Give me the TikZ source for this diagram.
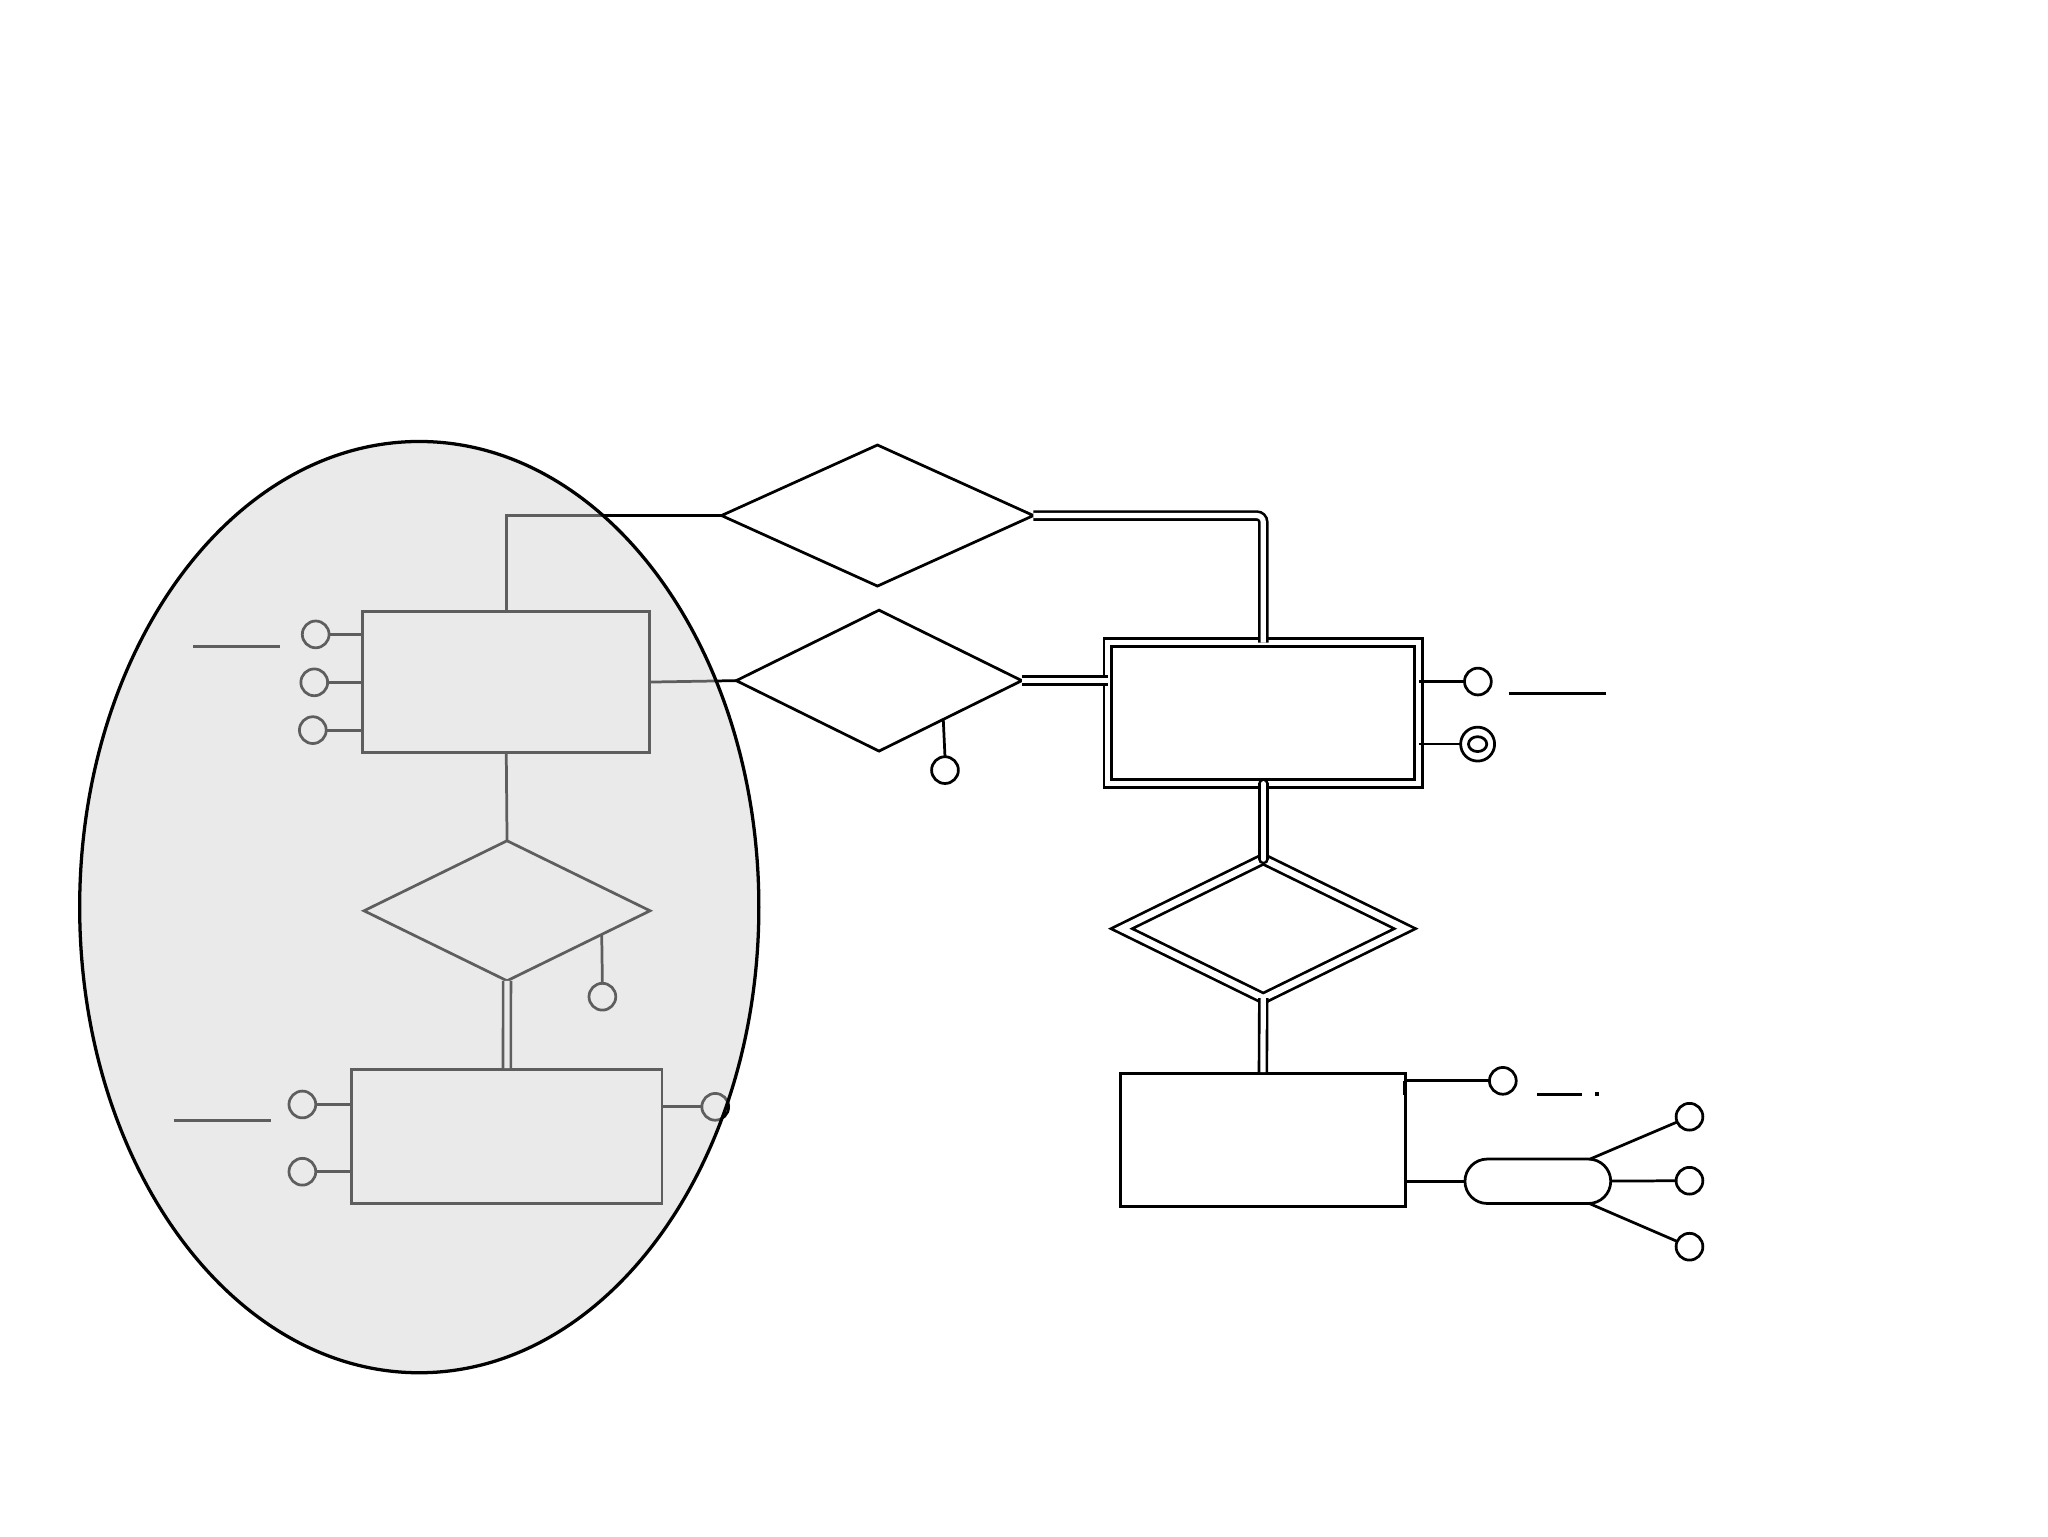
\documentclass[tikz,border=0pt]{standalone}
\usetikzlibrary{shapes.geometric,shapes.misc,calc}
\definecolor{veil}{RGB}{210,210,210}
\begin{document}
\begin{tikzpicture}[x=1pt,y=-1pt,line width=2.1pt,line join=miter,
  entity/.style={draw,fill=white,rectangle,inner sep=0pt,outer sep=0pt},
  weakentity/.style={entity,double=white,double distance=4pt},
  rel/.style={draw,fill=white,diamond,inner sep=0pt,outer sep=0pt},
  weakrel/.style={rel,double=white,double distance=5pt},
  attr/.style={draw,fill=white,circle,inner sep=0pt,outer sep=0pt,minimum size=20.5pt},
  multiattr/.style={attr,minimum size=26pt},
  composite/.style={draw,fill=white,rounded rectangle,inner sep=0pt,outer sep=0pt,
    minimum width=111.6pt,minimum height=34pt},
  total/.style={draw,double=white,double distance=4pt,line width=2pt},
  underbar/.style={draw,line width=2.1pt}]

\useasboundingbox[fill=white] (0,0) rectangle (1568,1176);

% ---------- entities ----------
\node[entity,minimum width=219.6pt,minimum height=107.7pt] (E1) at (387.6,522.2) {};
\node[entity,minimum width=237.6pt,minimum height=102.6pt] (E3) at (388.1,870.1) {};
\node[weakentity,minimum width=238pt,minimum height=108pt] (E2) at (967.2,546) {};
\node[entity,minimum width=218.2pt,minimum height=102.1pt] (E4) at (966.9,872.9) {};

% ---------- relationships ----------
\node[rel,minimum width=238.8pt,minimum height=108pt] (R1) at (671.8,394.7) {};
\node[rel,minimum width=218.6pt,minimum height=107.9pt] (R2) at (673,521.1) {};
\node[rel,minimum width=219pt,minimum height=107.2pt] (R4) at (388.2,697.3) {};
\node[weakrel,minimum width=217pt,minimum height=106.5pt] (R3) at (967.2,711) {};

% ---------- attributes ----------
\node[attr] (k1) at (241.7,485.7) {};
\node[attr] (k2) at (240.6,522.4) {};
\node[attr] (k3) at (239.5,559) {};
\node[attr] (q1) at (461.2,763.1) {};
\node[attr] (m1) at (231.5,845.6) {};
\node[attr] (m2) at (231.5,897.1) {};
\node[attr] (m3) at (547.6,847.4) {};
\node[attr] (p1) at (723.5,589.6) {};
\node[attr] (a1) at (1131.5,521.8) {};
\node[multiattr] (a2) at (1131.3,569.7) {};
\draw (a2.center) ellipse [x radius=7, y radius=5.7];
\node[attr] (b1) at (1150.6,827.5) {};
\node[composite] (pill) at (1177.4,904.4) {};
\node[attr] (c1) at (1293.5,855) {};
\node[attr] (c2) at (1293.5,904) {};
\node[attr] (c3) at (1293.5,954.5) {};

% key underlines
\draw[underbar] (147.9,495.1) -- (214.1,495.1);
\draw[underbar] (133,857.6) -- (207.5,857.6);
\draw[underbar] (1155,530.9) -- (1229.5,530.9);
\draw[underbar] (1176.6,837.7) -- (1211,837.7);
\fill (1221,836.2) rectangle (1224,839.2);

% ---------- connectors ----------
\draw (E1.north) |- (R1.west);
\draw (E1.east) -- (R2.west);
\draw (E1.south) -- (R4.north);
\draw[total,shorten >=1pt] (R4.south) -- (E3.north);
\draw (k1) -- (k1 -| E1.west);
\draw (k2) -- (k2 -| E1.west);
\draw (k3) -- (k3 -| E1.west);
\draw (q1.north) -- ($(R4.east)!0.338!(R4.south)$);
\draw (m1) -- (m1 -| E3.west);
\draw (m2) -- (m2 -| E3.west);
\draw (m3) -- (m3 -| E3.east);
\draw (p1.north) -- ($(R2.east)!0.55!(R2.south)$);

\draw[total,rounded corners=5pt] (R1.east) -| (E2.north);
\draw[total] (R2.east) -- (R2.east -| E2.west);
\draw (a1 -| E2.east) -- (a1);
\draw (a2 -| E2.east) -- (a2);
\draw[total,line cap=round] (E2.south) -- (R3.north);
\draw[total,shorten >=1pt] (R3.south) -- (E4.north);

\draw (b1 -| E4.east) -- (b1);
\fill ($(E4.north east)+(-1.8,5.7)$) rectangle ++(3.2,10.8);
\draw (pill.west -| E4.east) -- (pill.west);
\draw (pill) -- (c1);
\draw (pill) -- (c2);
\draw (pill) -- (c3);

% ---------- translucent grouping over the left part ----------
\node[ellipse,minimum width=520pt,minimum height=713pt,inner sep=0pt,
  fill=veil,fill opacity=0.45] (grp) at (321,694.5) {};
\draw[line width=2.5pt] (grp.center) ellipse [x radius=260, y radius=356.5];
\end{tikzpicture}
\end{document}
